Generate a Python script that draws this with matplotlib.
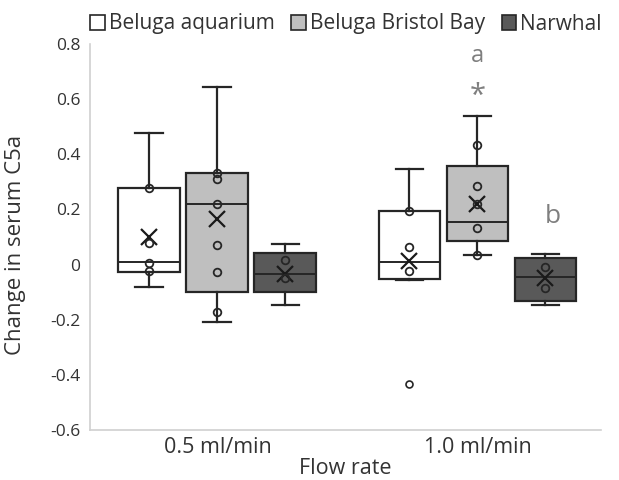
import numpy as np
import matplotlib.pyplot as plt
from matplotlib.patches import Patch

plt.rcParams['font.family'] = ['Open Sans', 'DejaVu Sans']

flow_labels = ['0.5 ml/min', '1.0 ml/min']
groups = ['Beluga aquarium', 'Beluga Bristol Bay', 'Narwhal']
face_colors = ['#ffffff', '#bfbfbf', '#595959']

# box summary per group: [0.5 ml/min, 1.0 ml/min]
whis_lo = {'Beluga aquarium': [-0.083, -0.055],
           'Beluga Bristol Bay': [-0.209, 0.036],
           'Narwhal': [-0.145, -0.145]}
q1 = {'Beluga aquarium': [-0.026, -0.053],
      'Beluga Bristol Bay': [-0.101, 0.086],
      'Narwhal': [-0.098, -0.131]}
median = {'Beluga aquarium': [0.008, 0.008],
          'Beluga Bristol Bay': [0.220, 0.153],
          'Narwhal': [-0.033, -0.046]}
q3 = {'Beluga aquarium': [0.279, 0.194],
      'Beluga Bristol Bay': [0.333, 0.357],
      'Narwhal': [0.043, 0.025]}
whis_hi = {'Beluga aquarium': [0.478, 0.346],
           'Beluga Bristol Bay': [0.645, 0.540],
           'Narwhal': [0.075, 0.038]}
mean = {'Beluga aquarium': [0.101, 0.013],
        'Beluga Bristol Bay': [0.164, 0.219],
        'Narwhal': [-0.033, -0.050]}
outliers = {'Beluga aquarium': [[], [-0.433]],
            'Beluga Bristol Bay': [[], []],
            'Narwhal': [[], []]}
inner_points = {'Beluga aquarium': [[0.279, 0.077, 0.005, -0.022],
                                    [0.194, 0.065, -0.022]],
                'Beluga Bristol Bay': [[0.333, 0.310, 0.218, 0.070, -0.027, -0.173],
                                       [0.434, 0.286, 0.219, 0.134, 0.036]],
                'Narwhal': [[0.017, -0.050],
                            [-0.008, -0.086]]}

fig = plt.figure(figsize=(6.19, 4.8), dpi=100)
ax = fig.add_axes([90/619, 50/480, 511/619, 386/480])

offsets = [-0.2615, 0.0, 0.2615]
width = 0.238
for g, name in enumerate(groups):
    stats = []
    for i in range(len(flow_labels)):
        stats.append(dict(med=median[name][i], q1=q1[name][i], q3=q3[name][i],
                          whislo=whis_lo[name][i], whishi=whis_hi[name][i],
                          mean=mean[name][i], fliers=outliers[name][i]))
    pos = [i + offsets[g] for i in range(len(flow_labels))]
    ax.bxp(stats, positions=pos, widths=width, patch_artist=True,
           showmeans=True, showfliers=True, manage_ticks=False,
           boxprops=dict(facecolor=face_colors[g], edgecolor='#262626', linewidth=1.6),
           medianprops=dict(color='#262626', linewidth=1.4),
           whiskerprops=dict(color='#262626', linewidth=1.6),
           capprops=dict(color='#262626', linewidth=1.6),
           capwidths=width * 0.45,
           meanprops=dict(marker='x', markersize=11, markeredgecolor='#1a1a1a',
                          markeredgewidth=1.6),
           flierprops=dict(marker='o', markersize=5, markerfacecolor='white',
                           markeredgecolor='#262626', markeredgewidth=1.2))
    for i in range(len(flow_labels)):
        pts = inner_points[name][i]
        ax.plot([pos[i]] * len(pts), pts, 'o', markersize=5.5,
                markerfacecolor='none', markeredgecolor='#262626',
                markeredgewidth=1.3, zorder=4)

# significance marks
ax.text(1 + offsets[1], 0.755, 'a', ha='center', va='center', fontsize=17, color='#7f7f7f')
ax.text(1 + offsets[1], 0.61, '*', ha='center', va='center', fontsize=21, color='#7f7f7f')
ax.text(1 + offsets[2] + 0.03, 0.175, 'b', ha='center', va='center', fontsize=19, color='#7f7f7f')

ax.set_xlim(-0.490, 1.475)
ax.set_ylim(-0.6, 0.8)
ax.set_yticks(np.arange(-0.6, 0.81, 0.2))
ax.set_yticklabels(['-0.6', '-0.4', '-0.2', '0', '0.2', '0.4', '0.6', '0.8'])
ax.set_xticks(range(len(flow_labels)))
ax.set_xticklabels(flow_labels)
ax.tick_params(length=0, colors='#333333')
ax.tick_params(axis='y', pad=7, labelsize=12.5)
ax.tick_params(axis='x', pad=5, labelsize=15.5)
for side in ['top', 'right']:
    ax.spines[side].set_visible(False)
for side in ['left', 'bottom']:
    ax.spines[side].set_color('#d0d0d0')
    ax.spines[side].set_linewidth(1.2)

ax.set_xlabel('Flow rate', fontsize=15.5, color='#333333', labelpad=0)
ax.set_ylabel('Change in serum C5a', fontsize=16, color='#333333')
ax.yaxis.set_label_coords(-0.125, 0.48)

handles = [Patch(facecolor=c, edgecolor='#262626', linewidth=1.2) for c in face_colors]
fig.legend(handles, groups, loc='center', bbox_to_anchor=(346/619, 1 - 24/480),
           ncol=3, frameon=False, fontsize=15, handlelength=0.7, handleheight=0.7,
           handletextpad=0.2, columnspacing=0.8, labelcolor='#333333',
           borderaxespad=0, borderpad=0)

fig.savefig('out.png', dpi=100)
